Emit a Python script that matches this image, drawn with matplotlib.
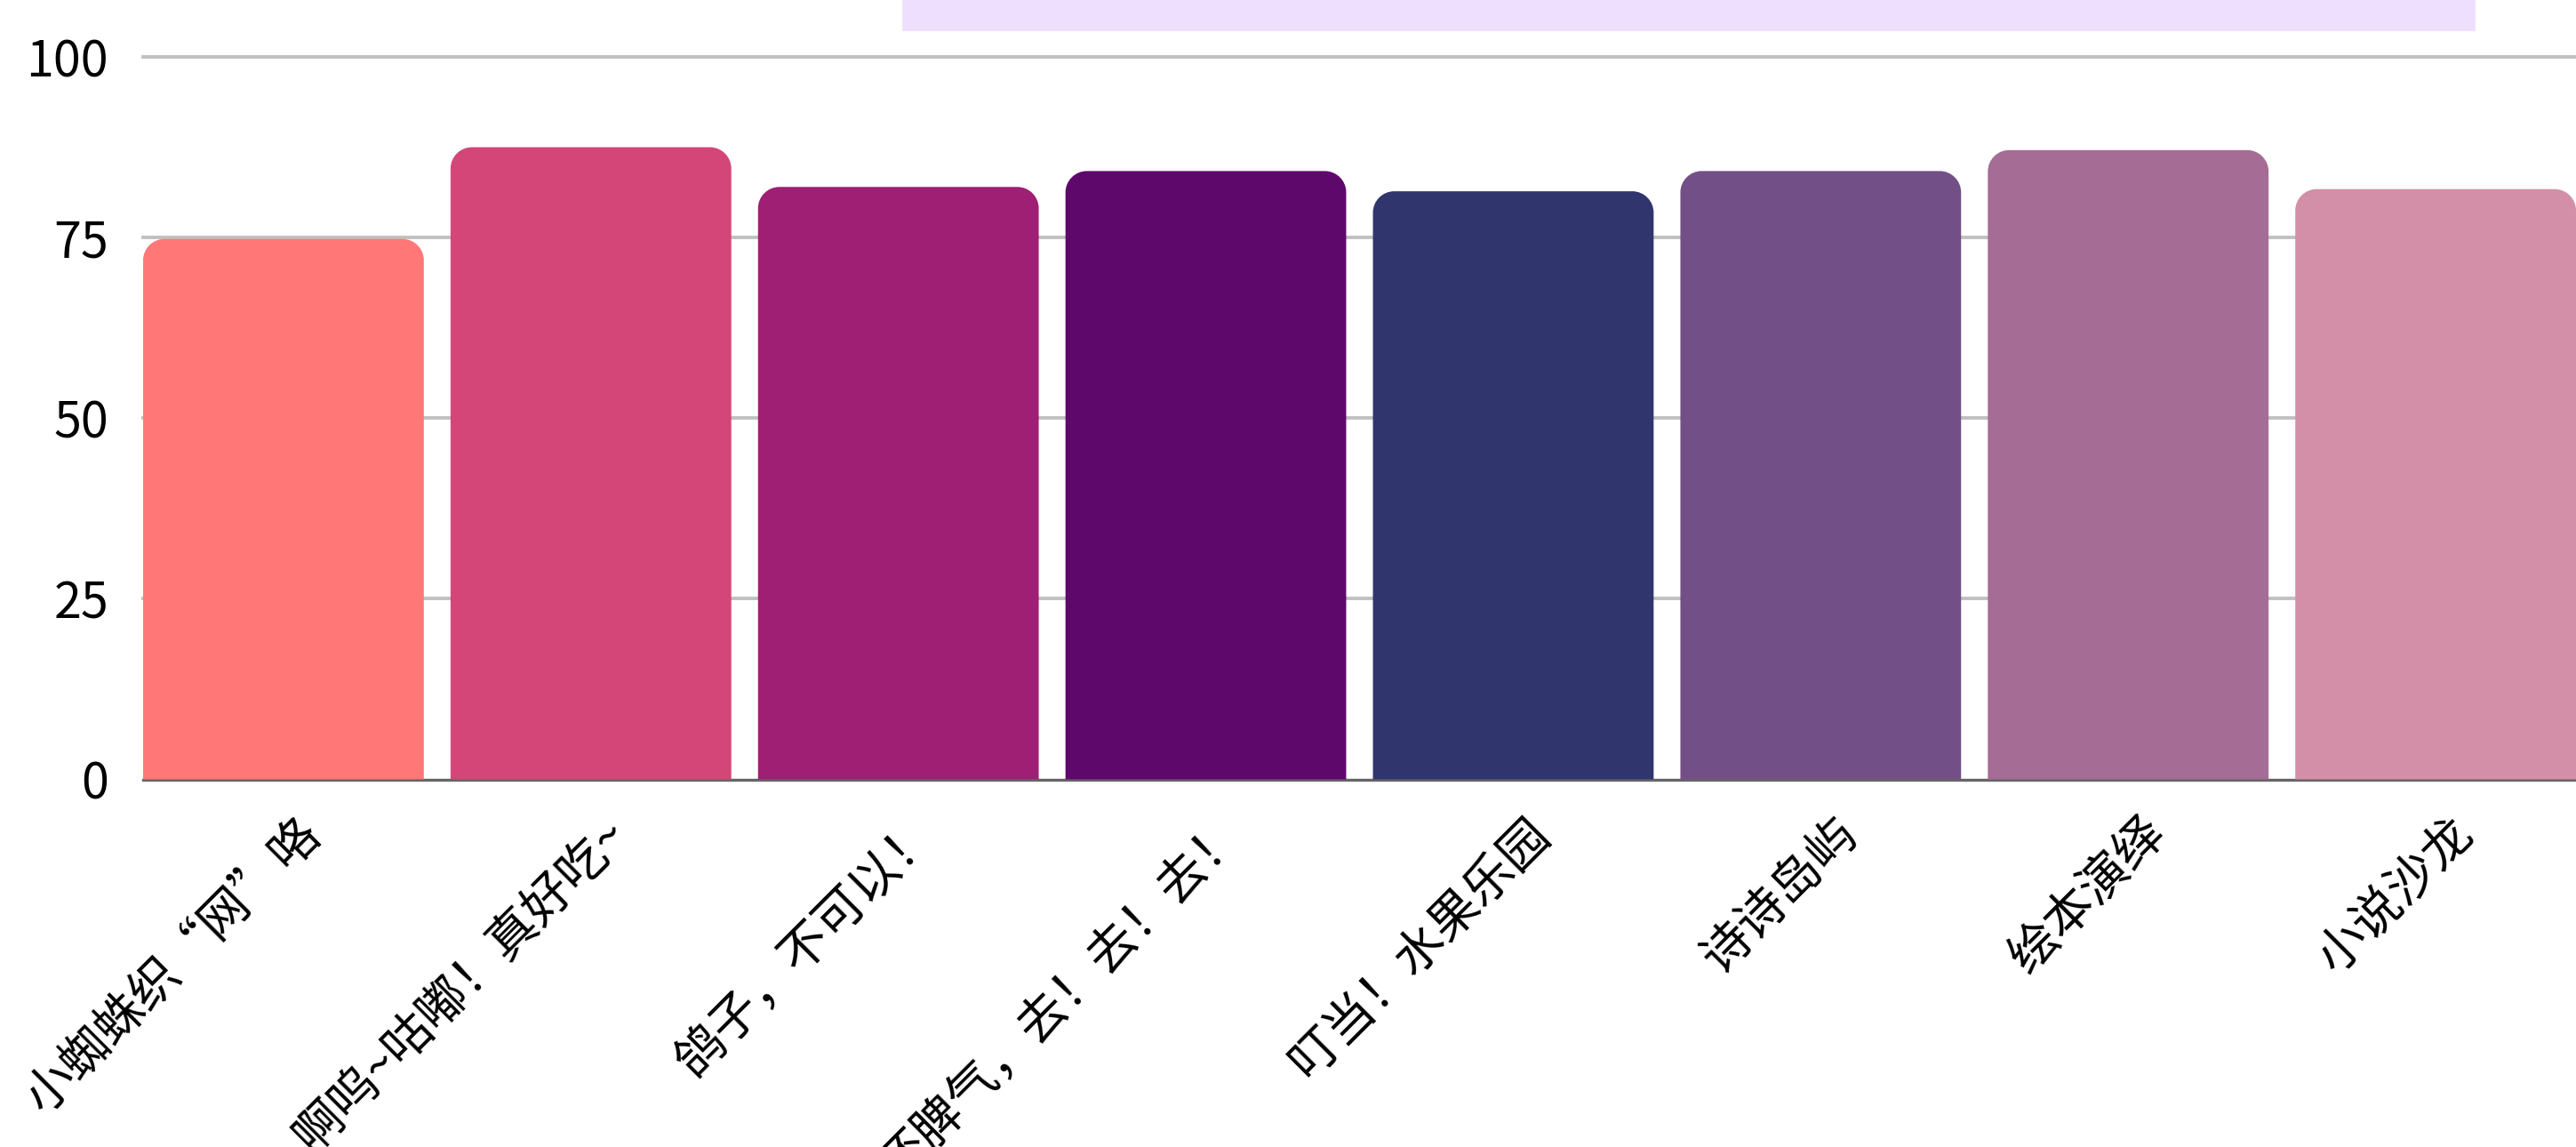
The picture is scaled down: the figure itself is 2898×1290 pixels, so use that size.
import numpy as np
import matplotlib.pyplot as plt
from matplotlib.path import Path
from matplotlib.patches import PathPatch, Rectangle
from matplotlib.transforms import ScaledTranslation

plt.rcParams['font.family'] = ['Noto Sans CJK SC', 'DejaVu Sans']

# data
labels = ['小蜘蛛织“网”咯', '啊呜~咕嘟！真好吃~', '鸽子，不可以！', '坏脾气，去！去！去！',
          '叮当！水果乐园', '诗诗岛屿', '绘本演绎', '小说沙龙']
values = [74.8, 87.5, 82.0, 84.2, 81.4, 84.2, 87.1, 81.7]
colors = ['#ff7777', '#d44677', '#9e1f73', '#5f086b', '#31356d', '#734f87', '#a56c95', '#d48fa8']
yticks = [0, 25, 50, 75, 100]

W, H, DPI = 2898, 1290, 200
fig = plt.figure(figsize=(W / DPI, H / DPI), dpi=DPI)
ax = fig.add_axes([161 / W, 1 - 876.5 / H, 1 - 161 / W, (876.5 - 64) / H])

bar_w = 0.913
x = np.arange(len(labels))
bars = ax.bar(x, values, width=bar_w, color=colors, zorder=3)
ax.set_xlim(-bar_w / 2, len(labels) - 1 + bar_w / 2)
ax.set_ylim(0, 100)

# swap the plain rectangles for ones with rounded top corners
px_x = ax.bbox.width / (ax.get_xlim()[1] - ax.get_xlim()[0])
px_y = ax.bbox.height / 100
r = 24
rx, ry = r / px_x, r / px_y
k = 0.5523
for b in bars:
    x0, y0, w, h = b.get_x(), b.get_y(), b.get_width(), b.get_height()
    top = y0 + h
    verts = [(x0, y0), (x0, top - ry),
             (x0, top - ry + k * ry), (x0 + rx - k * rx, top), (x0 + rx, top),
             (x0 + w - rx, top),
             (x0 + w - rx + k * rx, top), (x0 + w, top - ry + k * ry), (x0 + w, top - ry),
             (x0 + w, y0), (x0, y0)]
    codes = [Path.MOVETO, Path.LINETO,
             Path.CURVE4, Path.CURVE4, Path.CURVE4,
             Path.LINETO,
             Path.CURVE4, Path.CURVE4, Path.CURVE4,
             Path.LINETO, Path.CLOSEPOLY]
    ax.add_patch(PathPatch(Path(verts, codes), facecolor=b.get_facecolor(),
                           edgecolor='none', zorder=3))
    b.set_visible(False)

for v in yticks[1:]:
    ax.axhline(v, color='#c0c0c0', lw=1.4, zorder=1, clip_on=False)
ax.axhline(0, color='#666666', lw=1.2, zorder=2, clip_on=False)

for s in ax.spines.values():
    s.set_visible(False)

ax.set_yticks(yticks)
ax.tick_params(axis='y', length=0, pad=14, labelsize=20)
ax.set_xticks(x, labels)
ax.tick_params(axis='x', length=0, pad=14, labelsize=20)
# long labels run off the bottom edge, as in the reference
offset = ScaledTranslation(12 / 72, -5 / 72, fig.dpi_scale_trans)
for t in ax.get_xticklabels():
    t.set_rotation(45)
    t.set_ha('right')
    t.set_va('center')
    t.set_rotation_mode('anchor')
    t.set_transform(t.get_transform() + offset)

# pale box clipped at the top edge
fig.patches.append(Rectangle((1016 / W, 1 - 33 / H), (2783 - 1016) / W, 33 / H,
                             transform=fig.transFigure, color='#eedffe', zorder=0))

fig.savefig('out.png', dpi=DPI)
